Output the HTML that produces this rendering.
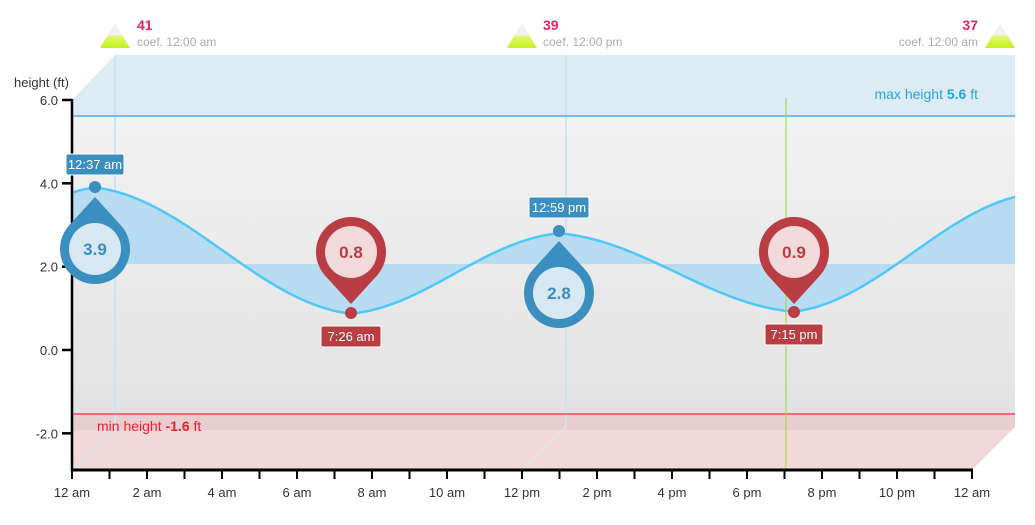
<!DOCTYPE html>
<html><head><meta charset="utf-8"><style>
body{margin:0;background:#fff;}
svg{display:block;font-family:"Liberation Sans",sans-serif;}
</style></head><body>
<svg id="s" width="1035" height="525" viewBox="0 0 1035 525" xmlns="http://www.w3.org/2000/svg">
<defs>
<linearGradient id="gw" x1="0" y1="0" x2="0" y2="1"><stop offset="0" stop-color="#f2f2f2"/><stop offset="1" stop-color="#e2e2e2"/></linearGradient>
<linearGradient id="tri" x1="0" y1="0" x2="0" y2="1"><stop offset="0.5" stop-color="#f1f1f1"/><stop offset="0.5" stop-color="#e3f57a"/><stop offset="1" stop-color="#c4f21a"/></linearGradient>
<clipPath id="box"><polygon points="72,100 115,55 1015,55 1015,427 972,470 72,470"/></clipPath>
</defs>
<g clip-path="url(#box)">
<rect x="72" y="55" width="943" height="61" fill="#dcebf4"/>
<rect x="72" y="116" width="943" height="298" fill="url(#gw)"/>
<rect x="72" y="414" width="943" height="16" fill="#e8cdd0"/>
<rect x="72" y="430" width="943" height="40" fill="#f3d8da"/>
<line x1="115" y1="55" x2="115" y2="427" stroke="#cde3ef" stroke-width="2"/>
<line x1="566" y1="55" x2="566" y2="427" stroke="#cde3ef" stroke-width="2"/>
<line x1="115" y1="427" x2="72" y2="470" stroke="#cde3ef" stroke-width="1.5"/>
<line x1="566" y1="427" x2="523" y2="470" stroke="#dde6ea" stroke-width="1.5"/>
<path id="fill" fill="#b7dcf2"/>
<path id="curve" fill="none" stroke="#4fc8f8" stroke-width="2.5"/>
<line x1="72" y1="116" x2="1015" y2="116" stroke="#6fbfec" stroke-width="2"/>
<line x1="72" y1="414" x2="1015" y2="414" stroke="#ec6f73" stroke-width="2"/>
</g>
<line x1="786" y1="98" x2="786" y2="470" stroke="#a8d65a" stroke-width="1.2"/>
<text x="978" y="99" font-size="14" fill="#29a3e8" text-anchor="end">max height <tspan font-weight="bold">5.6</tspan> ft</text>
<text x="97" y="431" font-size="14" fill="#f0202a">min height <tspan font-weight="bold">-1.6</tspan> ft</text>
<line x1="72" y1="99" x2="72" y2="471" stroke="#000" stroke-width="2.5"/>
<line x1="71" y1="470" x2="973" y2="470" stroke="#000" stroke-width="3"/>
<g id="yt" font-size="13" fill="#333" text-anchor="end"></g>
<g id="xt" font-size="13" fill="#333" text-anchor="middle"></g>
<text x="14" y="87" font-size="13" fill="#333">height (ft)</text>
<polygon points="100,48 115,23 130,48" fill="url(#tri)"/>
<text x="137" y="30" font-size="14" font-weight="bold" fill="#e8245c">41</text>
<text x="137" y="46" font-size="12" fill="#aaa">coef. 12:00 am</text>
<polygon points="507,48 522,23 537,48" fill="url(#tri)"/>
<text x="543" y="30" font-size="14" font-weight="bold" fill="#e8245c">39</text>
<text x="543" y="46" font-size="12" fill="#aaa">coef. 12:00 pm</text>
<polygon points="985,48 1000,23 1015,48" fill="url(#tri)"/>
<text x="978" y="30" font-size="14" font-weight="bold" fill="#e8245c" text-anchor="end">37</text>
<text x="978" y="46" font-size="12" fill="#aaa" text-anchor="end">coef. 12:00 am</text>
<g id="pins"></g>
</svg>
<script>
function X(h){return 72+37.5*h;}function Y(v){return 350-41.67*v;}
var ext=[[-5.6,1.0],[0.617,3.9],[7.43,0.87],[12.98,2.8],[19.25,0.92],[25.6,3.75]];
var pts=[];
for(var x=72;x<=1016;x+=2){var h=(x-72)/37.5,i=0;while(i<ext.length-2&&h>ext[i+1][0])i++;
var a=ext[i],b=ext[i+1],t=(h-a[0])/(b[0]-a[0]);var c=(1-Math.cos(Math.PI*t))/2;c=0.75*c+0.25*t;
var v=a[1]+(b[1]-a[1])*c;pts.push([x,Y(v)]);}
var d="M"+pts.map(p=>p[0]+","+p[1].toFixed(1)).join("L");
document.getElementById("curve").setAttribute("d",d);
document.getElementById("fill").setAttribute("d",d+"L1016,264L72,264Z");
var s="";
[6,4,2,0,-2].forEach(v=>{var y=Y(v);s+='<line x1="62" y1="'+y+'" x2="72" y2="'+y+'" stroke="#000" stroke-width="2.5"/><text x="58" y="'+(y+5)+'">'+v.toFixed(1)+'</text>';});
document.getElementById("yt").innerHTML=s;s="";
var lab=["12 am","2 am","4 am","6 am","8 am","10 am","12 pm","2 pm","4 pm","6 pm","8 pm","10 pm","12 am"];
for(var h=0;h<=24;h++){var x=X(h);s+='<line x1="'+x+'" y1="470" x2="'+x+'" y2="479" stroke="#000" stroke-width="2"/>';if(h%2==0)s+='<text x="'+x+'" y="497">'+lab[h/2]+'</text>';}
document.getElementById("xt").innerHTML=s;
function pin(cx,cy,up,col,inner,tcol,val,dotY,lx,ly,lw,lt){
var r=35,dd=52,tx=25.9,ty=23.6,o="";
if(up)o+='<polygon points="'+cx+','+(cy-dd)+' '+(cx-tx)+','+(cy-ty)+' '+(cx+tx)+','+(cy-ty)+'" fill="'+col+'"/>';
else o+='<polygon points="'+cx+','+(cy+dd)+' '+(cx-tx)+','+(cy+ty)+' '+(cx+tx)+','+(cy+ty)+'" fill="'+col+'"/>';
o+='<circle cx="'+cx+'" cy="'+cy+'" r="'+r+'" fill="'+col+'"/><circle cx="'+cx+'" cy="'+cy+'" r="26" fill="'+inner+'"/>';
o+='<text x="'+cx+'" y="'+(cy+6)+'" font-size="17" font-weight="bold" fill="'+tcol+'" text-anchor="middle">'+val+'</text>';
o+='<circle cx="'+cx+'" cy="'+dotY+'" r="6" fill="'+col+'"/>';
o+='<rect x="'+(lx-lw/2)+'" y="'+ly+'" width="'+lw+'" height="21" rx="2" fill="'+col+'" stroke="#fff" stroke-width="1"/>';
o+='<text x="'+lx+'" y="'+(ly+15)+'" font-size="13" fill="#fff" text-anchor="middle">'+lt+'</text>';return o;}
document.getElementById("pins").innerHTML=
pin(95,249,true,"#3a8ec0","#d8e8f2","#3a8ec0","3.9",187,95,154,58,"12:37 am")+
pin(351,252,false,"#b93d42","#f2d9da","#b93d42","0.8",313,351,326,60,"7:26 am")+
pin(559,293,true,"#3a8ec0","#d8e8f2","#3a8ec0","2.8",231,559,197,60,"12:59 pm")+
pin(794,252,false,"#b93d42","#f2d9da","#b93d42","0.9",312,794,324,58,"7:15 pm");
</script>
</body></html>
